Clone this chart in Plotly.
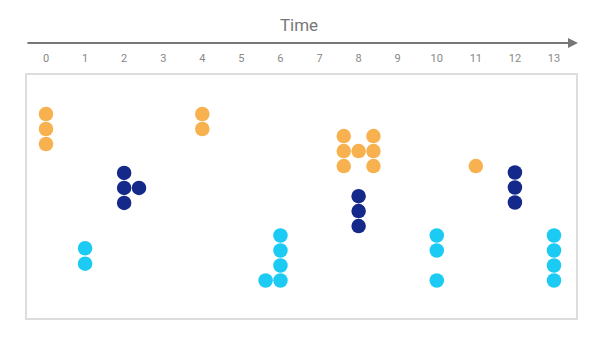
import plotly.graph_objects as go

# Time ticks
tick_vals = list(range(14))
tick_text = [str(v) for v in tick_vals]

# Series (x = time, y = lane position from top)
orange_x = [0, 0, 0, 4, 4, 7.62, 7.62, 7.62, 8, 8.38, 8.38, 8.38, 11]
orange_y = [2.6, 3.6, 4.6, 2.6, 3.6, 4.07, 5.07, 6.07, 5.07, 4.07, 5.07, 6.07, 6.07]

navy_x = [2, 2, 2, 2.38, 8, 8, 8, 12, 12, 12]
navy_y = [6.53, 7.53, 8.53, 7.53, 8.08, 9.07, 10.07, 6.5, 7.5, 8.5]

cyan_x = [1, 1, 5.62, 6, 6, 6, 6, 10, 10, 10, 13, 13, 13, 13]
cyan_y = [11.55, 12.58, 13.7, 10.7, 11.7, 12.7, 13.7, 10.7, 11.7, 13.7, 10.7, 11.7, 12.7, 13.7]

fig = go.Figure()
for xs, ys, col in [(orange_x, orange_y, "#F8B14F"),
                    (navy_x, navy_y, "#15298A"),
                    (cyan_x, cyan_y, "#1BCBF3")]:
    fig.add_trace(go.Scatter(x=xs, y=ys, mode="markers",
                             marker=dict(size=14.5, color=col, line=dict(width=0)),
                             showlegend=False, hoverinfo="skip"))

fig.update_layout(
    width=600, height=356,
    margin=dict(l=19, r=32, t=67, b=46),
    paper_bgcolor="white", plot_bgcolor="white",
    font=dict(family="Roboto", color="#888888"),
    title=dict(text="Time", x=(299 - 8) / 600, xanchor="center", y=1 - 17 / 356, yanchor="middle",
               font=dict(family="Roboto", size=17, color="#777777")),
    xaxis=dict(range=[-0.486, 13.563], side="top", tickmode="array",
               tickvals=tick_vals, ticktext=tick_text, ticks="",
               ticklabelstandoff=7,
               tickfont=dict(family="Roboto", size=11, color="#888888"),
               showgrid=False, zeroline=False,
               showline=True, mirror=True, linecolor="#DDDDDD", linewidth=2),
    yaxis=dict(range=[16.2, 0], showticklabels=False, ticks="",
               showgrid=False, zeroline=False,
               showline=True, mirror=True, linecolor="#DDDDDD", linewidth=2),
)

# Time arrow above the tick labels
fig.add_annotation(x=1.0036, y=1 + (75 - 43) / 243, xref="paper", yref="paper",
                   ax=-552, ay=0, text="", showarrow=True,
                   arrowhead=2, arrowsize=1, arrowwidth=2, arrowcolor="#777777")

fig.write_html("out.html")
